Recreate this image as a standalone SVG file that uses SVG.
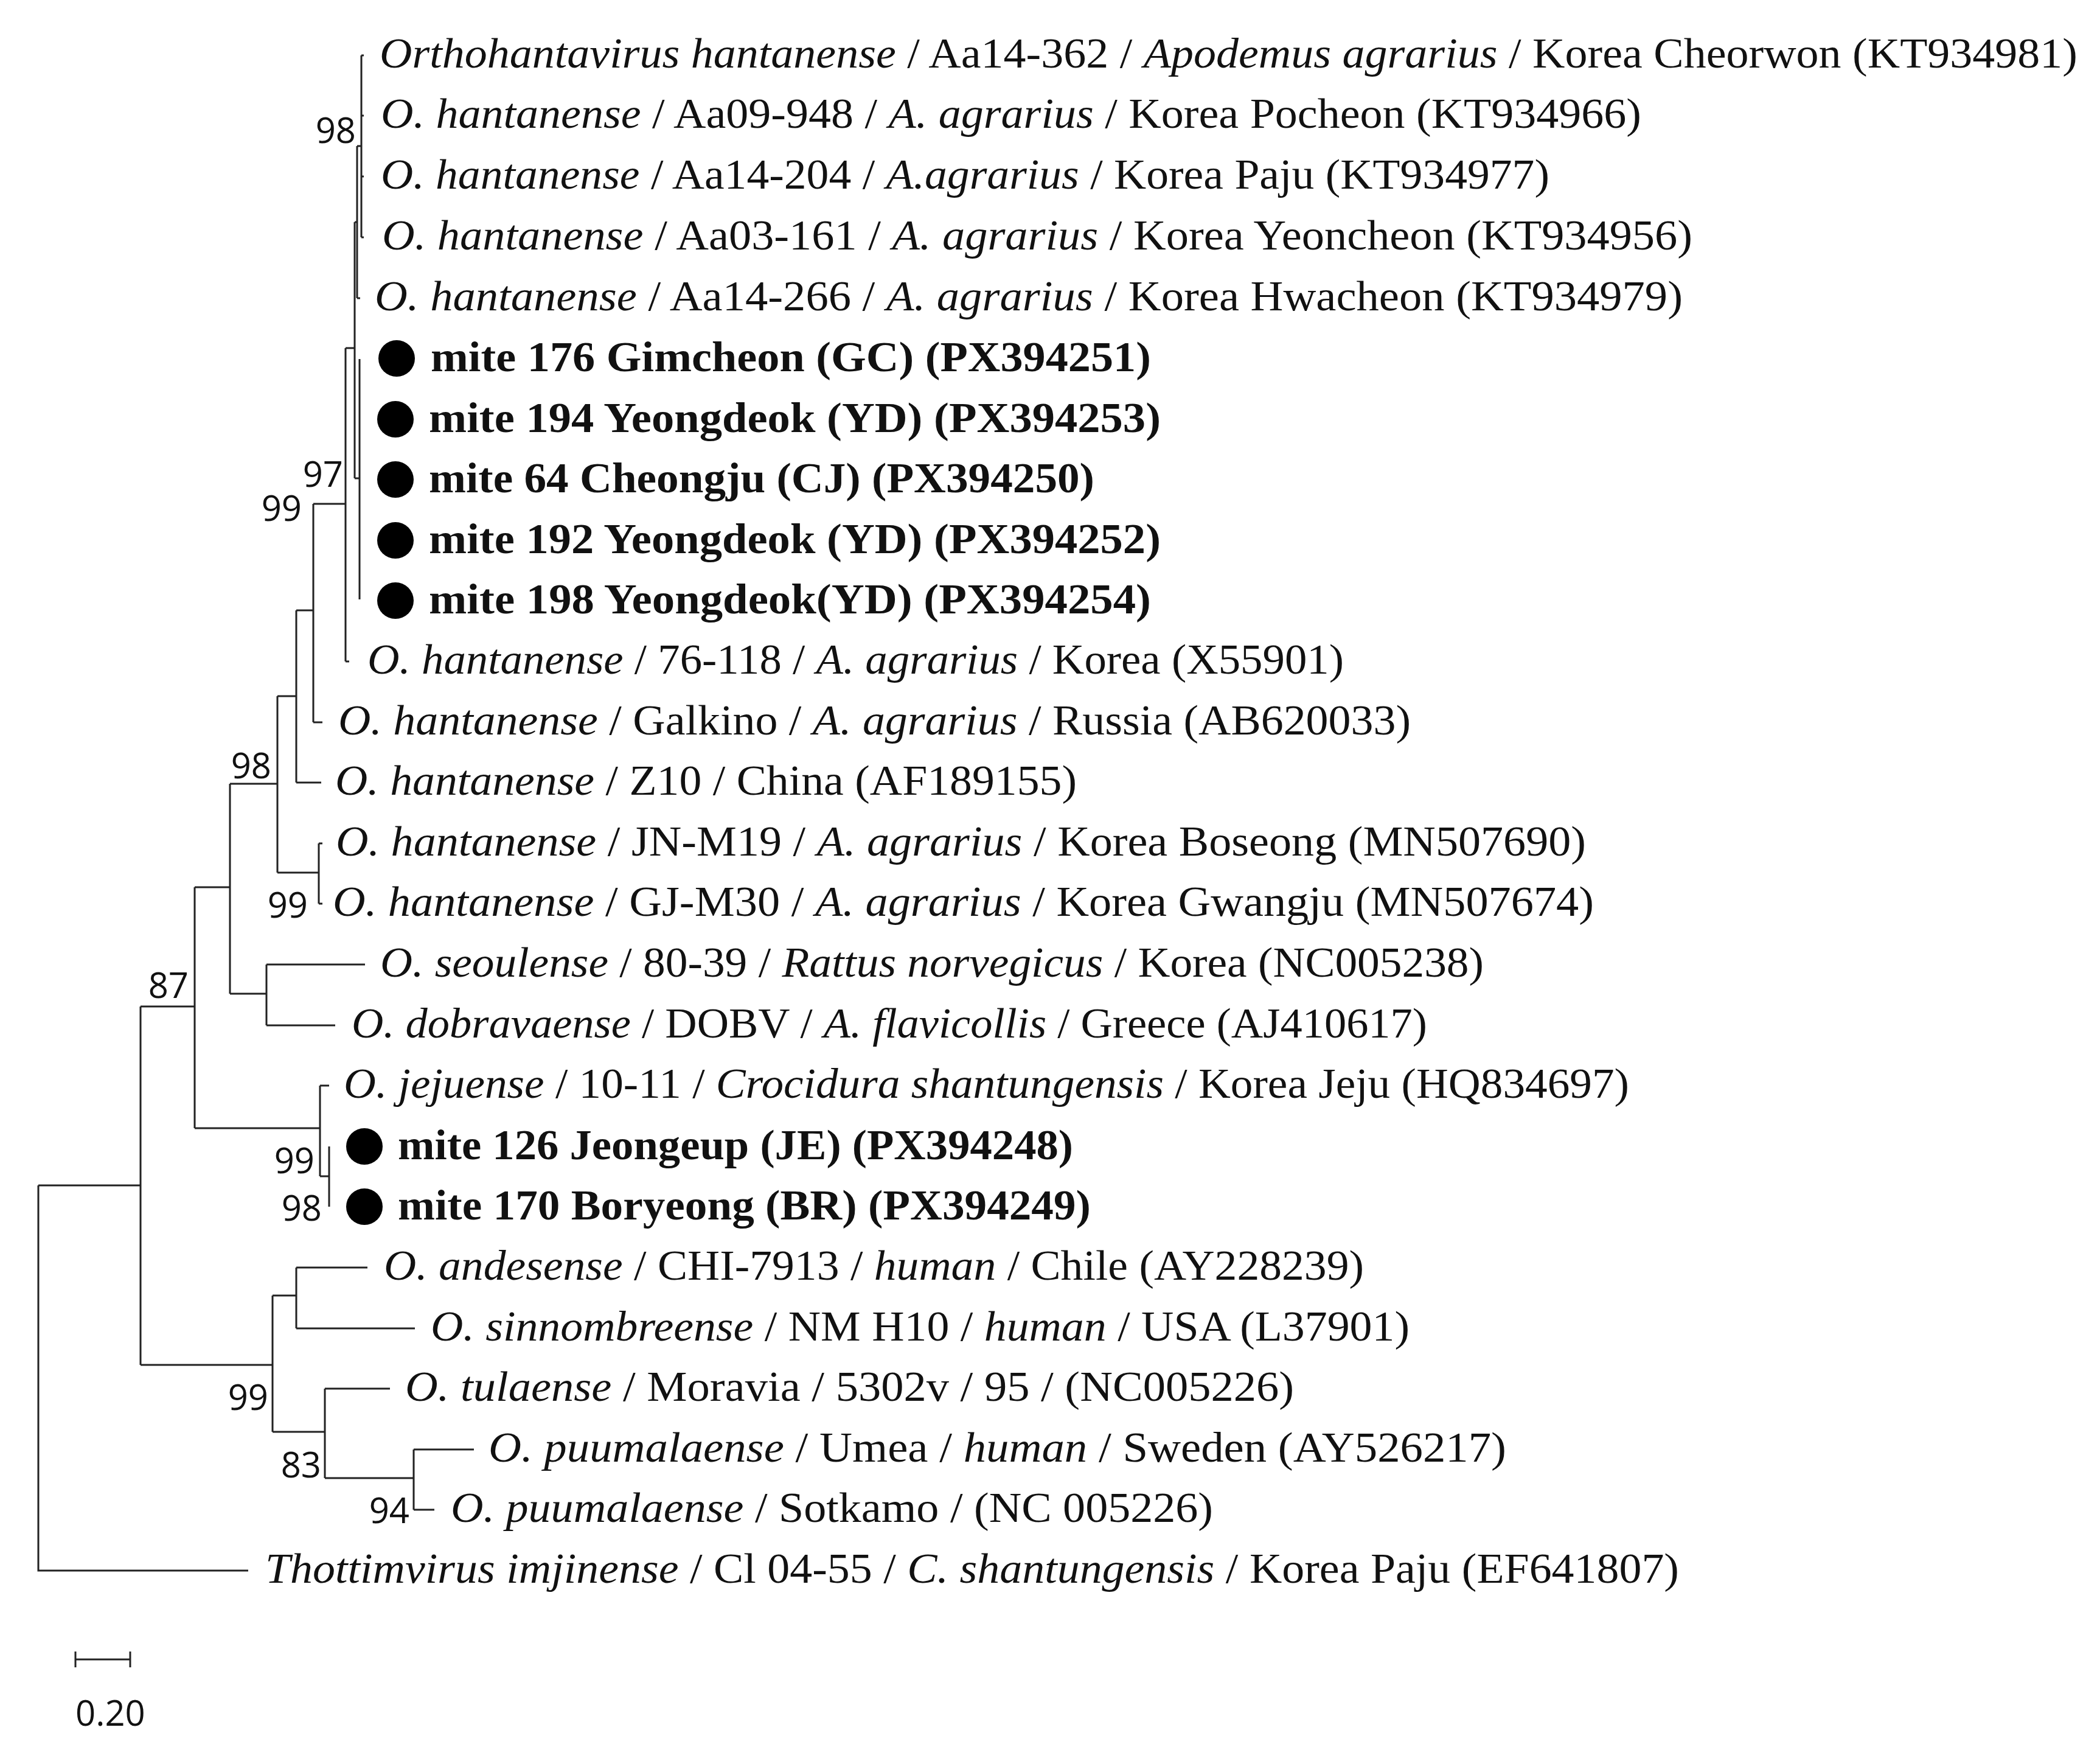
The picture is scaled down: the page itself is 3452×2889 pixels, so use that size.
<svg xmlns="http://www.w3.org/2000/svg" width="3452" height="2889" viewBox="0 0 3452 2889">
<style>
.t{font-family:"Liberation Serif","DejaVu Serif",serif;font-size:70px;fill:#111}
.i{font-style:italic}
.b{font-weight:bold}
.bs{font-family:"Open Sans","DejaVu Sans",sans-serif;font-size:58px;fill:#111;text-anchor:end}
.e{stroke:#222;stroke-width:3;fill:none}
</style>
<rect width="3452" height="2889" fill="#fff"/>
<g id="connectors" class="e">
<path d="M63,1948V2581H408"/>
<path d="M63,1948H231M231,1654V2243M231,1654H320M231,2243H448"/>
<path d="M320,1458V1854M320,1458H378M320,1854H526"/>
<path d="M378,1288V1633M378,1288H456M378,1633H438"/>
<path d="M438,1585V1685M438,1585H600M438,1685H551"/>
<path d="M456,1144V1434M456,1144H487M456,1434H524M524,1386V1485M524,1386H530M524,1485H530"/>
<path d="M487,1003V1286M487,1003H515M487,1286H528"/>
<path d="M515,828V1187M515,828H568M515,1187H530"/>
<path d="M568,572V1087M568,572H583M568,1087H574"/>
<path d="M583,365V786M583,365H587M583,786H591"/>
<path d="M587,240V490M587,240H594M587,490H592"/>
<path d="M594,91V390M594,91H598M594,190H598M594,290H598M594,390H598"/>
<path d="M591,590V985"/>
<path d="M526,1784V1933M526,1784H541M526,1933H541M541,1884V1983"/>
<path d="M448,2129V2353M448,2129H487M448,2353H534"/>
<path d="M487,2083V2183M487,2083H604M487,2183H682"/>
<path d="M534,2282V2429M534,2282H641M534,2429H680"/>
<path d="M680,2382V2481M680,2382H779M680,2481H714"/>
<path d="M124,2727H214M124,2714V2740M214,2714V2740"/>
</g>
<g id="bootstrap">
<text class="bs" x="585" y="235">98</text>
<text class="bs" x="564" y="800">97</text>
<text class="bs" x="496" y="856">99</text>
<text class="bs" x="446" y="1279">98</text>
<text class="bs" x="506" y="1508">99</text>
<text class="bs" x="310" y="1640">87</text>
<text class="bs" x="517" y="1928">99</text>
<text class="bs" x="529" y="2006">98</text>
<text class="bs" x="441" y="2317">99</text>
<text class="bs" x="528" y="2428">83</text>
<text class="bs" x="673" y="2503">94</text>
<text class="bs" x="124" y="2836" style="text-anchor:start">0.20</text>
</g>
<g id="n0"><text class="t" x="624" y="111" textLength="2791" lengthAdjust="spacingAndGlyphs"><tspan class="i">Orthohantavirus hantanense</tspan> / Aa14-362 / <tspan class="i">Apodemus agrarius</tspan> / Korea Cheorwon (KT934981)</text></g>
<g id="n1"><text class="t" x="626" y="210" textLength="2072" lengthAdjust="spacingAndGlyphs"><tspan class="i">O. hantanense</tspan> / Aa09-948 / <tspan class="i">A. agrarius</tspan> / Korea Pocheon (KT934966)</text></g>
<g id="n2"><text class="t" x="626" y="310" textLength="1921" lengthAdjust="spacingAndGlyphs"><tspan class="i">O. hantanense</tspan> / Aa14-204 / <tspan class="i">A.agrarius</tspan> / Korea Paju (KT934977)</text></g>
<g id="n3"><text class="t" x="628" y="410" textLength="2154" lengthAdjust="spacingAndGlyphs"><tspan class="i">O. hantanense</tspan> / Aa03-161 / <tspan class="i">A. agrarius</tspan> / Korea Yeoncheon (KT934956)</text></g>
<g id="n4"><text class="t" x="616" y="510" textLength="2150" lengthAdjust="spacingAndGlyphs"><tspan class="i">O. hantanense</tspan> / Aa14-266 / <tspan class="i">A. agrarius</tspan> / Korea Hwacheon (KT934979)</text></g>
<g id="n5"><circle cx="652" cy="589" r="30"/><text class="t b" x="708" y="610" textLength="1184" lengthAdjust="spacingAndGlyphs">mite 176 Gimcheon (GC) (PX394251)</text></g>
<g id="n6"><circle cx="650" cy="689" r="30"/><text class="t b" x="705" y="710" textLength="1203" lengthAdjust="spacingAndGlyphs">mite 194 Yeongdeok (YD) (PX394253)</text></g>
<g id="n7"><circle cx="650" cy="788" r="30"/><text class="t b" x="705" y="809" textLength="1094" lengthAdjust="spacingAndGlyphs">mite 64 Cheongju (CJ) (PX394250)</text></g>
<g id="n8"><circle cx="650" cy="888" r="30"/><text class="t b" x="705" y="909" textLength="1203" lengthAdjust="spacingAndGlyphs">mite 192 Yeongdeok (YD) (PX394252)</text></g>
<g id="n9"><circle cx="650" cy="987" r="30"/><text class="t b" x="705" y="1008" textLength="1187" lengthAdjust="spacingAndGlyphs">mite 198 Yeongdeok(YD) (PX394254)</text></g>
<g id="n10"><text class="t" x="604" y="1107" textLength="1605" lengthAdjust="spacingAndGlyphs"><tspan class="i">O. hantanense</tspan> / 76-118 / <tspan class="i">A. agrarius</tspan> / Korea (X55901)</text></g>
<g id="n11"><text class="t" x="556" y="1207" textLength="1763" lengthAdjust="spacingAndGlyphs"><tspan class="i">O. hantanense</tspan> / Galkino / <tspan class="i">A. agrarius</tspan> / Russia (AB620033)</text></g>
<g id="n12"><text class="t" x="551" y="1306" textLength="1219" lengthAdjust="spacingAndGlyphs"><tspan class="i">O. hantanense</tspan> / Z10 / China (AF189155)</text></g>
<g id="n13"><text class="t" x="552" y="1406" textLength="2055" lengthAdjust="spacingAndGlyphs"><tspan class="i">O. hantanense</tspan> / JN-M19 / <tspan class="i">A. agrarius</tspan> / Korea Boseong (MN507690)</text></g>
<g id="n14"><text class="t" x="547" y="1505" textLength="2073" lengthAdjust="spacingAndGlyphs"><tspan class="i">O. hantanense</tspan> / GJ-M30 / <tspan class="i">A. agrarius</tspan> / Korea Gwangju (MN507674)</text></g>
<g id="n15"><text class="t" x="625" y="1605" textLength="1814" lengthAdjust="spacingAndGlyphs"><tspan class="i">O. seoulense</tspan> / 80-39 / <tspan class="i">Rattus norvegicus</tspan> / Korea (NC005238)</text></g>
<g id="n16"><text class="t" x="578" y="1705" textLength="1768" lengthAdjust="spacingAndGlyphs"><tspan class="i">O. dobravaense</tspan> / DOBV / <tspan class="i">A. flavicollis</tspan> / Greece (AJ410617)</text></g>
<g id="n17"><text class="t" x="565" y="1804" textLength="2113" lengthAdjust="spacingAndGlyphs"><tspan class="i">O. jejuense</tspan> / 10-11 / <tspan class="i">Crocidura shantungensis</tspan> / Korea Jeju (HQ834697)</text></g>
<g id="n18"><circle cx="599" cy="1884" r="30"/><text class="t b" x="654" y="1905" textLength="1110" lengthAdjust="spacingAndGlyphs">mite 126 Jeongeup (JE) (PX394248)</text></g>
<g id="n19"><circle cx="599" cy="1983" r="30"/><text class="t b" x="654" y="2004" textLength="1139" lengthAdjust="spacingAndGlyphs">mite 170 Boryeong (BR) (PX394249)</text></g>
<g id="n20"><text class="t" x="631" y="2103" textLength="1611" lengthAdjust="spacingAndGlyphs"><tspan class="i">O. andesense</tspan> / CHI-7913 / <tspan class="i">human</tspan> / Chile (AY228239)</text></g>
<g id="n21"><text class="t" x="708" y="2203" textLength="1609" lengthAdjust="spacingAndGlyphs"><tspan class="i">O. sinnombreense</tspan> / NM H10 / <tspan class="i">human</tspan> / USA (L37901)</text></g>
<g id="n22"><text class="t" x="666" y="2302" textLength="1461" lengthAdjust="spacingAndGlyphs"><tspan class="i">O. tulaense</tspan> / Moravia / 5302v / 95 / (NC005226)</text></g>
<g id="n23"><text class="t" x="803" y="2402" textLength="1673" lengthAdjust="spacingAndGlyphs"><tspan class="i">O. puumalaense</tspan> / Umea / <tspan class="i">human</tspan> / Sweden (AY526217)</text></g>
<g id="n24"><text class="t" x="741" y="2501" textLength="1253" lengthAdjust="spacingAndGlyphs"><tspan class="i">O. puumalaense</tspan> / Sotkamo / (NC 005226)</text></g>
<g id="n25"><text class="t" x="436" y="2601" textLength="2324" lengthAdjust="spacingAndGlyphs"><tspan class="i">Thottimvirus imjinense</tspan> / Cl 04-55 / <tspan class="i">C. shantungensis</tspan> / Korea Paju (EF641807)</text></g>
</svg>
